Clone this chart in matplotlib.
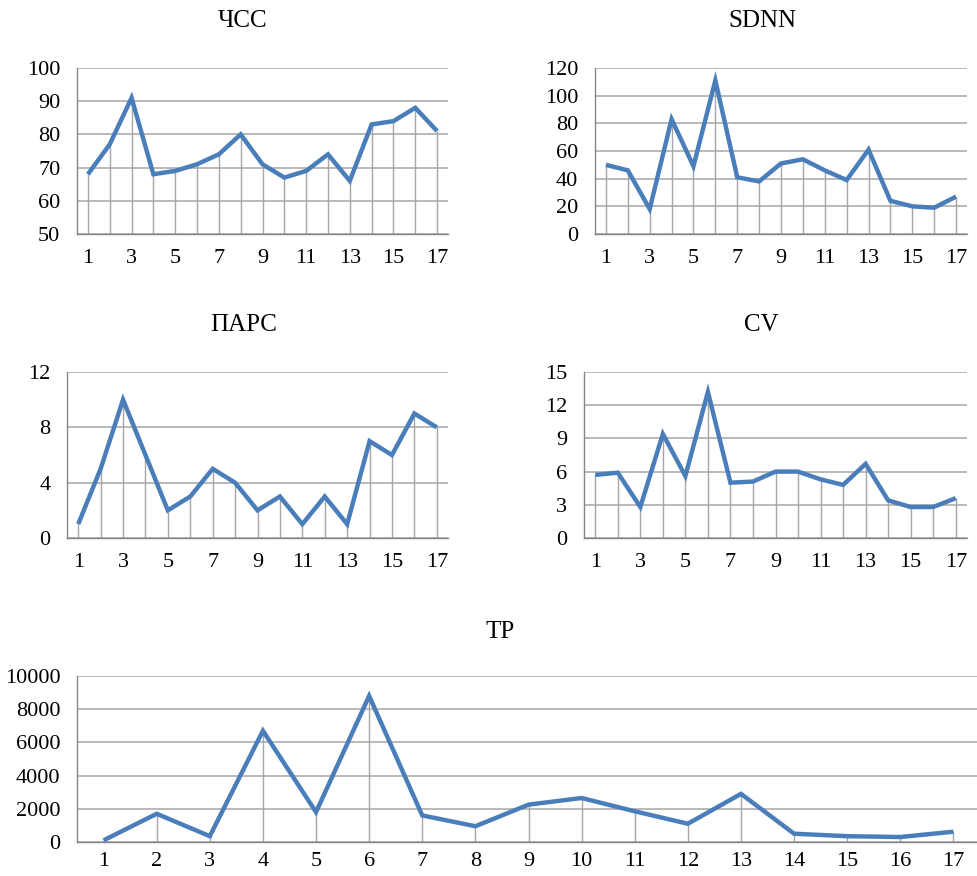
import matplotlib
matplotlib.use("Agg")
import matplotlib.pyplot as plt

plt.rcParams['font.family'] = ['Liberation Serif', 'DejaVu Serif']

# measurement number (1..17)
points = list(range(1, 18))

hr = [68, 77, 91, 68, 69, 71, 74, 80, 71, 67, 69, 74, 66, 83, 84, 88, 81]
sdnn = [50, 46, 18, 83, 49, 111, 41, 38, 51, 54, 46, 39, 61, 24, 20, 19, 27]
pars = [1, 5, 10, 6, 2, 3, 5, 4, 2, 3, 1, 3, 1, 7, 6, 9, 8]
cv = [5.7, 5.9, 2.8, 9.4, 5.6, 13.2, 5.0, 5.1, 6.0, 6.0, 5.3, 4.8, 6.7, 3.4, 2.8, 2.8, 3.6]
tp = [100, 1700, 350, 6700, 1800, 8800, 1600, 950, 2250, 2650, 1850, 1100, 2900, 500, 350, 300, 620]

W, H = 977, 876
LINE_COLOR = '#4a7ebb'
GRID_COLOR = '#a6a6a6'
AXIS_COLOR = '#868686'


def px_axes(fig, left, right, top, bottom):
    return fig.add_axes([left / W, 1 - bottom / H, (right - left) / W, (bottom - top) / H])


def draw_chart(ax, values, yticks, xticks, title, title_xy, xpad=11):
    ymin = yticks[0]
    ax.set_ylim(yticks[0], yticks[-1])
    ax.set_xlim(0.5, len(values) + 0.5)
    ax.set_yticks(yticks)
    ax.set_xticks(xticks)
    ax.yaxis.grid(True, color=GRID_COLOR, linewidth=1.1)
    ax.set_axisbelow(True)

    # drop lines from each point down to the category axis
    ax.vlines(points, ymin, values, color=GRID_COLOR, linewidth=1.0, zorder=1)
    ax.plot(points, values, color=LINE_COLOR, linewidth=3.2, solid_joinstyle='miter',
            solid_capstyle='butt', zorder=3, clip_on=False)

    for side in ['top', 'right']:
        ax.spines[side].set_visible(False)
    for side in ['left', 'bottom']:
        ax.spines[side].set_color(AXIS_COLOR)
        ax.spines[side].set_linewidth(1.0)
    ax.tick_params(length=0, labelsize=16, pad=12)
    ax.tick_params(axis='x', pad=xpad)

    fig.text(title_xy[0] / W, 1 - title_xy[1] / H, title, fontsize=18,
             ha='center', va='center')


fig = plt.figure(figsize=(W / 100, H / 100), dpi=100)

odd = list(range(1, 18, 2))

ax1 = px_axes(fig, 77, 448, 68, 234)
draw_chart(ax1, hr, [50, 60, 70, 80, 90, 100], odd, 'ЧСС', (243, 21))

ax2 = px_axes(fig, 595, 967, 68, 234)
draw_chart(ax2, sdnn, [0, 20, 40, 60, 80, 100, 120], odd, 'SDNN', (762, 21))

ax3 = px_axes(fig, 67, 448, 372, 538)
draw_chart(ax3, pars, [0, 4, 8, 12], odd, 'ПАРС', (244, 325))

ax4 = px_axes(fig, 584, 967, 372, 538)
draw_chart(ax4, cv, [0, 3, 6, 9, 12, 15], odd, 'CV', (761, 325))

ax5 = px_axes(fig, 77, 980, 676, 842)
draw_chart(ax5, tp, [0, 2000, 4000, 6000, 8000, 10000], points, 'TP', (500, 632), xpad=7)

fig.savefig('out.png', dpi=100)
